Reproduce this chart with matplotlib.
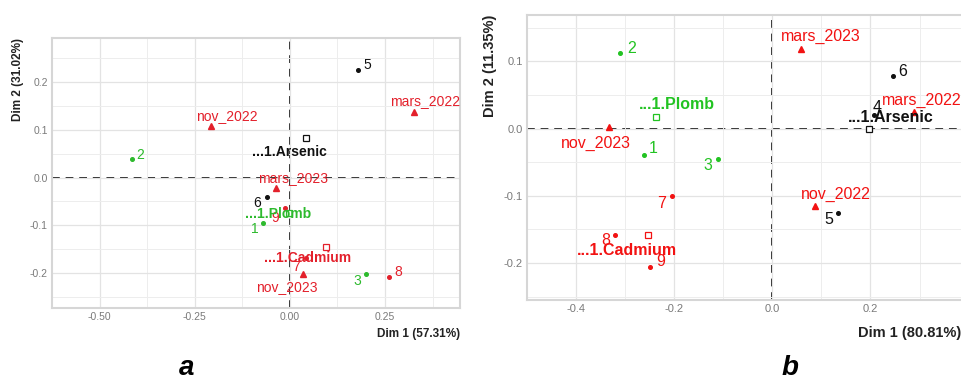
import matplotlib
matplotlib.use("Agg")
import matplotlib.pyplot as plt
import numpy as np

plt.rcParams['font.family'] = ['Liberation Sans', 'DejaVu Sans']
plt.rcParams['axes.unicode_minus'] = False

# ---------------- data ----------------
# panel a
a_ind_labels = ['1', '2', '3', '5', '6', '7', '8', '9']
a_ind_x = [-0.070, -0.416, 0.200, 0.180, -0.060, 0.043, 0.260, -0.014]
a_ind_y = [-0.095, 0.038, -0.202, 0.225, -0.040, -0.168, -0.208, -0.065]
a_ind_group = ['Plomb', 'Plomb', 'Plomb', 'Arsenic', 'Arsenic', 'Cadmium', 'Cadmium', 'Cadmium']

a_per_labels = ['mars_2022', 'nov_2022', 'mars_2023', 'nov_2023']
a_per_x = [0.327, -0.207, -0.036, 0.034]
a_per_y = [0.137, 0.109, -0.021, -0.202]

a_grp_labels = ['Arsenic', 'Plomb', 'Cadmium']
a_grp_x = [0.043, -0.002, 0.094]
a_grp_y = [0.082, -0.074, -0.145]

# panel b
b_ind_labels = ['1', '2', '3', '4', '5', '6', '7', '8', '9']
b_ind_x = [-0.262, -0.310, -0.111, 0.207, 0.134, 0.245, -0.205, -0.320, -0.250]
b_ind_y = [-0.039, 0.113, -0.045, 0.020, -0.125, 0.078, -0.101, -0.158, -0.206]
b_ind_group = ['Plomb', 'Plomb', 'Plomb', 'Arsenic', 'Arsenic', 'Arsenic', 'Cadmium', 'Cadmium', 'Cadmium']

b_per_labels = ['mars_2022', 'nov_2022', 'mars_2023', 'nov_2023']
b_per_x = [0.288, 0.088, 0.058, -0.333]
b_per_y = [0.024, -0.115, 0.119, 0.002]

b_grp_labels = ['Arsenic', 'Plomb', 'Cadmium']
b_grp_x = [0.198, -0.237, -0.254]
b_grp_y = [0.000, 0.017, -0.158]

a_xticks = [-0.50, -0.25, 0.00, 0.25]
a_yticks = [-0.2, -0.1, 0.0, 0.1, 0.2]
b_xticks = [-0.4, -0.2, 0.0, 0.2]
b_yticks = [-0.2, -0.1, 0.0, 0.1]

a_xlabel, a_ylabel = 'Dim 1 (57.31%)', 'Dim 2 (31.02%)'
b_xlabel, b_ylabel = 'Dim 1 (80.81%)', 'Dim 2 (11.35%)'

# ---------------- styles (label offsets in points) ----------------
a_ind_off = [(-6, -4.3), (6.5, 3), (-6.5, -5), (6.5, 3.6), (-7, -4.3), (-7, -7), (7, 3.6), (-7, -6.5)]
a_per_off = [(8, 8), (11.5, 7.2), (12, 6.5), (-11.5, -9.4)]
a_grp_off = [(-12, -9.4), (-8, -0.7), (-13, -8)]

b_ind_off = [(7, 4.3), (8, 3), (-7, -5), (2, 5.5), (-7, -5), (7, 3.6), (-7, -5), (-7, -4.3), (8, 4.3)]
b_per_off = [(5.8, 8.6), (14.4, 8.6), (14.4, 8.6), (-9.4, -11.5)]
b_grp_off = [(15, 8), (15, 9.4), (-15, -11)]

W, H = 962, 381
fig = plt.figure(figsize=(W / 100, H / 100), dpi=100)


def px_axes(l, t, r, b):
    return fig.add_axes([l / W, 1 - b / H, (r - l) / W, (b - t) / H])


def draw(ax, cfg):
    (ind_l, ind_x, ind_y, ind_g, ind_off,
     per_l, per_x, per_y, per_off,
     grp_l, grp_x, grp_y, grp_off,
     xt, yt, xlim, ylim, cols, fs, fsb, tfs, xfmt) = cfg
    ax.set_xlim(*xlim)
    ax.set_ylim(*ylim)
    ax.set_xticks(xt)
    ax.set_yticks(yt)
    dx = xt[1] - xt[0]
    dy = yt[1] - yt[0]
    ax.set_xticks(np.arange(xt[0] - dx / 2, xlim[1], dx), minor=True)
    ax.set_yticks(np.arange(yt[0] - dy / 2, ylim[1], dy), minor=True)
    ax.grid(True, which='major', color='#E3E3E3', lw=0.9, zorder=0)
    ax.grid(True, which='minor', color='#EDEDED', lw=0.7, zorder=0)
    ax.tick_params(which='both', length=0, labelcolor='#7A7A7A', labelsize=tfs, pad=3)
    ax.set_xticklabels([xfmt % v for v in xt])
    ax.set_yticklabels(['%.1f' % v for v in yt])
    for s in ax.spines.values():
        s.set_color('#D6D6D6')
        s.set_linewidth(1.5)
    ax.axhline(0, color='#222222', ls=(0, (4, 3)), lw=1.4, zorder=1)
    ax.axvline(0, color='#222222', ls=(0, (4, 3)), lw=1.4, zorder=1)

    for l, x, y, g, o in zip(ind_l, ind_x, ind_y, ind_g, ind_off):
        c = cols[g]
        ax.plot(x, y, 'o', color=c, ms=2.6, zorder=3)
        ax.annotate(l, (x, y), xytext=o, textcoords='offset points',
                    color=c, fontsize=fs, ha='center', va='center', zorder=4)
    for l, x, y, o in zip(per_l, per_x, per_y, per_off):
        c = cols['per']
        ax.plot(x, y, '^', color=c, ms=4, zorder=3)
        ax.annotate(l, (x, y), xytext=o, textcoords='offset points',
                    color=c, fontsize=fs, ha='center', va='center', zorder=4)
    for l, x, y, o in zip(grp_l, grp_x, grp_y, grp_off):
        c = cols[l]
        ax.plot(x, y, 's', mfc='white', mec=c, mew=0.9, ms=4.2, zorder=3)
        ax.annotate('...1.' + l, (x, y), xytext=o, textcoords='offset points',
                    color=c, fontsize=fsb, fontweight='bold', ha='center', va='center', zorder=4)


cols_a = {'Arsenic': '#111111', 'Plomb': '#2DBA2D', 'Cadmium': '#E3202B', 'per': '#E3202B'}
cols_b = {'Arsenic': '#111111', 'Plomb': '#22C322', 'Cadmium': '#F21212', 'per': '#F21212'}

ax1 = px_axes(52, 38, 460, 308)
draw(ax1, (a_ind_labels, a_ind_x, a_ind_y, a_ind_group, a_ind_off,
           a_per_labels, a_per_x, a_per_y, a_per_off,
           a_grp_labels, a_grp_x, a_grp_y, a_grp_off,
           a_xticks, a_yticks, (-0.534, 0.447), (-0.274, 0.293), cols_a, 10, 10, 7.5, '%.2f'))

ax2 = px_axes(527, 15, 972, 300)
draw(ax2, (b_ind_labels, b_ind_x, b_ind_y, b_ind_group, b_ind_off,
           b_per_labels, b_per_x, b_per_y, b_per_off,
           b_grp_labels, b_grp_x, b_grp_y, b_grp_off,
           b_xticks, b_yticks, (-0.430, 0.407), (-0.255, 0.169), cols_b, 11.5, 11.5, 8, '%.1f'))

fig.text(460 / W, 1 - 334 / H, a_xlabel, ha='right', va='center', fontsize=8.5, fontweight='bold', color='#222222')
fig.text(18 / W, 1 - 38 / H, a_ylabel, ha='center', va='top', rotation=90, fontsize=8.5, fontweight='bold', color='#222222')
fig.text(961 / W, 1 - 333 / H, b_xlabel, ha='right', va='center', fontsize=10.5, fontweight='bold', color='#222222')
fig.text(490 / W, 1 - 15 / H, b_ylabel, ha='center', va='top', rotation=90, fontsize=10.5, fontweight='bold', color='#222222')

fig.text(187 / W, 1 - 375 / H, 'a', ha='center', va='baseline', fontsize=20, fontweight='bold', style='italic')
fig.text(790 / W, 1 - 375 / H, 'b', ha='center', va='baseline', fontsize=20, fontweight='bold', style='italic')

fig.savefig('out.png', dpi=100)
